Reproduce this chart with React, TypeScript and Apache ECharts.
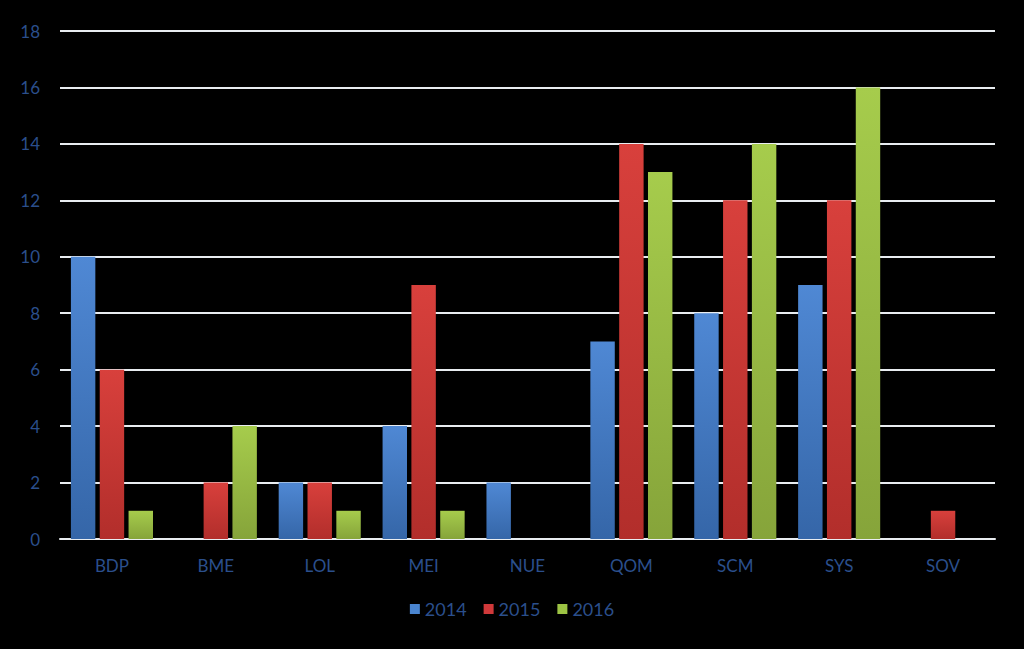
import React, { useEffect, useRef } from "react";
import * as echarts from "echarts";

const categories = ["BDP", "BME", "LOL", "MEI", "NUE", "QOM", "SCM", "SYS", "SOV"];
const s2014 = [10, null, 2, 4, 2, 7, 8, 9, null];
const s2015 = [6, 2, 2, 9, null, 14, 12, 12, 1];
const s2016 = [1, 4, 1, 1, null, 13, 14, 16, null];
const seriesNames = ["2014", "2015", "2016"];
const yTicks = { min: 0, max: 18, interval: 2 };

const grad = (top: string, bottom: string) =>
  new echarts.graphic.LinearGradient(0, 0, 0, 1, [
    { offset: 0, color: top },
    { offset: 1, color: bottom },
  ]);

export default function App() {
  const ref = useRef<HTMLDivElement>(null);
  useEffect(() => {
    if (!ref.current) return;
    const chart = echarts.init(ref.current, null, { renderer: "svg" });
    const labelColor = "#2B4F8C";
    const font = "Lato, 'Open Sans', sans-serif";
    const colors = [
      ["#4F88D4", "#3566A8"],
      ["#D8403C", "#B22E2B"],
      ["#A6CC4C", "#86A43A"],
    ];
    const legendColors = ["#4A85D0", "#D0393A", "#9DC444"];
    const data = [s2014, s2015, s2016];
    chart.setOption({
      animation: false,
      backgroundColor: "#000000",
      grid: { left: 60, right: 29, top: 31, bottom: 110, containLabel: false },
      legend: {
        bottom: 26,
        left: "center",
        itemWidth: 10,
        itemHeight: 10,
        itemGap: 17,
        icon: "rect",
        textStyle: { color: labelColor, fontSize: 18, fontFamily: font },
        data: seriesNames.map((n, i) => ({ name: n, itemStyle: { color: legendColors[i] } })),
      },
      xAxis: {
        type: "category",
        data: categories,
        axisLine: { show: true, lineStyle: { color: "#E8ECF0", width: 2 } },
        axisTick: { show: false },
        axisLabel: { color: labelColor, fontSize: 17, fontFamily: font, margin: 18 },
      },
      yAxis: {
        type: "value",
        min: yTicks.min,
        max: yTicks.max,
        interval: yTicks.interval,
        axisLine: { show: false },
        axisTick: { show: false },
        axisLabel: { color: labelColor, fontSize: 17, fontFamily: font, margin: 20 },
        splitLine: { show: true, lineStyle: { color: "#E8ECF0", width: 2 } },
      },
      series: data.map((d, i) => ({
        name: seriesNames[i],
        type: "bar",
        data: d,
        barGap: "18%",
        barCategoryGap: "21%",
        itemStyle: { color: grad(colors[i][0], colors[i][1]) },
      })),
    });
    return () => chart.dispose();
  }, []);
  return (
    <div
      ref={ref}
      style={{ position: "absolute", left: 0, top: 0, width: 1024, height: 649 }}
    />
  );
}
